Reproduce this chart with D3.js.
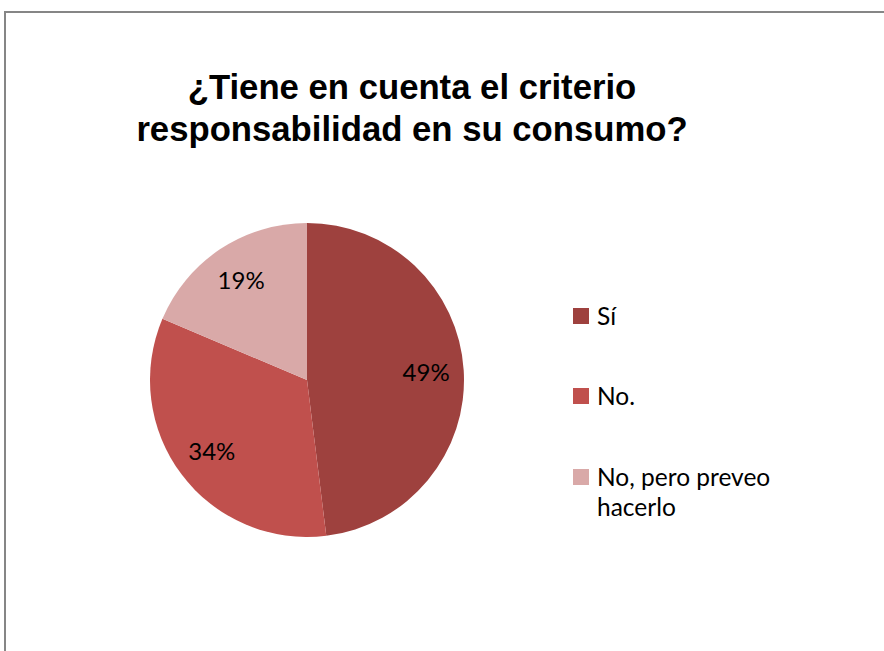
<!DOCTYPE html>
<html>
<head>
<meta charset="utf-8">
<script src="https://cdn.jsdelivr.net/npm/d3@7"></script>
<style>
  html, body { margin: 0; padding: 0; background: #fff; }
  svg { display: block; }
</style>
</head>
<body>
<svg id="chart" width="884" height="651"></svg>
<script>
// chart data
const categories = ["Sí", "No.", "No, pero preveo hacerlo"];
const values = [49, 34, 19];
const colors = ["#9E413E", "#C0504D", "#D9A9A8"];
const titleLines = ["¿Tiene en cuenta el criterio", "responsabilidad en su consumo?"];

const width = 884, height = 651;
const cx = 307, cy = 380, radius = 157;

const svg = d3.select("#chart");

// frame (only top and left edge visible)
svg.append("path")
  .attr("d", `M5,${height} L5,12 L${width},12`)
  .attr("fill", "none")
  .attr("stroke", "#868686")
  .attr("stroke-width", 2);

// title
svg.append("g")
  .selectAll("text")
  .data(titleLines)
  .join("text")
  .attr("x", 412)
  .attr("y", (d, i) => 99 + i * 42)
  .attr("text-anchor", "middle")
  .attr("font-family", "'Liberation Sans', Arial, sans-serif")
  .attr("font-weight", "bold")
  .attr("font-size", 34.7)
  .attr("fill", "#000")
  .text(d => d);

const pie = d3.pie().sort(null).value(d => d);
const arcs = pie(values);
const arc = d3.arc().innerRadius(0).outerRadius(radius);
const labelArc = d3.arc().innerRadius(radius * 0.76).outerRadius(radius * 0.76);

const g = svg.append("g").attr("transform", `translate(${cx},${cy})`);

g.selectAll("path")
  .data(arcs)
  .join("path")
  .attr("d", arc)
  .attr("fill", (d, i) => colors[i]);

g.selectAll("text")
  .data(arcs)
  .join("text")
  .attr("transform", d => `translate(${labelArc.centroid(d)})`)
  .attr("text-anchor", "middle")
  .attr("dy", "0.35em")
  .attr("font-family", "Lato, 'Open Sans', sans-serif")
  .attr("font-size", 24)
  .attr("fill", "#000")
  .text(d => d.data + "%");

// legend
const legendY = [316, 396, 477];
const legend = svg.append("g")
  .selectAll("g")
  .data(categories)
  .join("g")
  .attr("transform", (d, i) => `translate(573,${legendY[i]})`);

legend.append("rect")
  .attr("x", 0)
  .attr("y", -8)
  .attr("width", 16)
  .attr("height", 16)
  .attr("fill", (d, i) => colors[i]);

legend.append("text")
  .attr("font-family", "Lato, 'Open Sans', sans-serif")
  .attr("font-size", 24.5)
  .attr("fill", "#000")
  .each(function(d) {
    const parts = d === "No, pero preveo hacerlo" ? ["No, pero preveo", "hacerlo"] : [d];
    d3.select(this).selectAll("tspan")
      .data(parts)
      .join("tspan")
      .attr("x", 24)
      .attr("y", (p, j) => j * 30)
      .attr("dy", "0.35em")
      .text(p => p);
  });
</script>
</body>
</html>
